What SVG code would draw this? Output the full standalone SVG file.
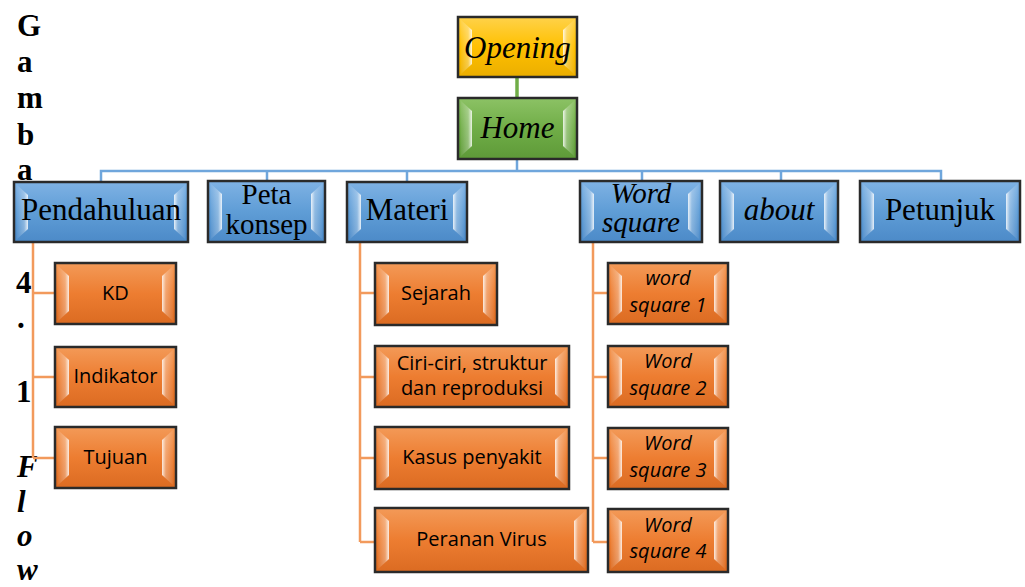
<svg xmlns="http://www.w3.org/2000/svg" width="1025" height="587" viewBox="0 0 1025 587">
<defs>
<linearGradient id="gBlue" x1="0" y1="0" x2="0" y2="1"><stop offset="0" stop-color="#7FB2E4"/><stop offset="0.5" stop-color="#5F9DD6"/><stop offset="1" stop-color="#4C8AC8"/></linearGradient>
<linearGradient id="gOrange" x1="0" y1="0" x2="0" y2="1"><stop offset="0" stop-color="#F39A58"/><stop offset="0.5" stop-color="#ED7D31"/><stop offset="1" stop-color="#DB6B22"/></linearGradient>
<linearGradient id="gGreen" x1="0" y1="0" x2="0" y2="1"><stop offset="0" stop-color="#8CC265"/><stop offset="0.5" stop-color="#70AD47"/><stop offset="1" stop-color="#5E9A38"/></linearGradient>
<linearGradient id="gYellow" x1="0" y1="0" x2="0" y2="1"><stop offset="0" stop-color="#FFD24A"/><stop offset="0.5" stop-color="#FFC000"/><stop offset="1" stop-color="#EBAE00"/></linearGradient>
<linearGradient id="bevL" x1="0" y1="0" x2="1" y2="0"><stop offset="0" stop-color="#fff" stop-opacity="0.05"/><stop offset="0.65" stop-color="#fff" stop-opacity="0.3"/><stop offset="1" stop-color="#fff" stop-opacity="0.85"/></linearGradient>
<linearGradient id="bevR" x1="1" y1="0" x2="0" y2="0"><stop offset="0" stop-color="#fff" stop-opacity="0.05"/><stop offset="0.65" stop-color="#fff" stop-opacity="0.3"/><stop offset="1" stop-color="#fff" stop-opacity="0.85"/></linearGradient>
<style>
.box{stroke:#2a2a2a;stroke-width:2.5}
.blue{fill:url(#gBlue)}
.orange{fill:url(#gOrange)}
.green{fill:url(#gGreen)}
.yellow{fill:url(#gYellow)}
.bl{fill:url(#bevL)}
.br{fill:url(#bevR)}
.ser{font-family:"Liberation Serif","Times New Roman",serif;font-size:31px;fill:#000;text-anchor:middle}
.ser2{font-size:29px}
.it{font-style:italic}
.sans{font-family:"Open Sans","Liberation Sans",sans-serif;font-size:20px;fill:#000;text-anchor:middle}
.side{font-family:"Liberation Serif","Times New Roman",serif;font-size:31px;font-weight:bold;fill:#000}
.cb{stroke:#6FA6DC;stroke-width:2.5;fill:none}
.co{stroke:#F29A5C;stroke-width:2.5;fill:none}
.cg{stroke:#70AD47;stroke-width:3.5;fill:none}
</style>
</defs>
<rect width="1025" height="587" fill="#fff"/>
<g id="caption">
<text class="side" x="17" y="36">G</text>
<text class="side" x="17" y="72">a</text>
<text class="side" x="17" y="108">m</text>
<text class="side" x="17" y="145">b</text>
<text class="side" x="17" y="180">a</text>
<text class="side" x="16" y="293">4</text>
<text class="side" x="17" y="328">.</text>
<text class="side" x="16" y="402">1</text>
<text class="side" x="17" y="477" font-style="italic">F</text>
<text class="side" x="17" y="512" font-style="italic">l</text>
<text class="side" x="17" y="546" font-style="italic">o</text>
<text class="side" x="17" y="580" font-style="italic">w</text>
</g>
<g id="connectors">
<path class="cg" d="M517 77V98"/>
<path class="cb" d="M517 159V171" stroke-width="3.5"/>
<path class="cb" d="M101 182V171H941V181M267 171V181M407 171V182M642 171V181M781 171V181"/>
<path class="co" d="M33 242V458M33 293H55M33 377H55M33 458H55"/>
<path class="co" d="M360 242V542M360 293H375M360 377H375M360 458H375M360 542H375"/>
<path class="co" d="M593 242V542M593 293H608M593 377H608M593 458H608M593 542H608"/>
</g>
<g id="n-opening">
<rect class="box yellow" x="458" y="17" width="119" height="60"/>
<path class="bl" d="M461 20L472 30L472 64L461 74Z"/><path class="br" d="M574 20L563 30L563 64L574 74Z"/>
<text class="ser it" x="517.5" y="58">Opening</text>
</g>
<g id="n-home">
<rect class="box green" x="458" y="98" width="119" height="61"/>
<path class="bl" d="M461 101L472 111L472 146L461 156Z"/><path class="br" d="M574 101L563 111L563 146L574 156Z"/>
<text class="ser it" x="517.5" y="138">Home</text>
</g>
<g id="n-pendahuluan">
<rect class="box blue" x="14" y="182" width="174" height="60"/>
<path class="bl" d="M17 185L28 195L28 229L17 239Z"/><path class="br" d="M185 185L174 195L174 229L185 239Z"/>
<text class="ser" x="101" y="220">Pendahuluan</text>
</g>
<g id="n-peta">
<rect class="box blue" x="208" y="181" width="117" height="61"/>
<path class="bl" d="M211 184L222 194L222 229L211 239Z"/><path class="br" d="M322 184L311 194L311 229L322 239Z"/>
<text class="ser ser2" x="266.5" y="204">Peta</text>
<text class="ser ser2" x="266.5" y="234">konsep</text>
</g>
<g id="n-materi">
<rect class="box blue" x="347" y="182" width="120" height="60"/>
<path class="bl" d="M350 185L361 195L361 229L350 239Z"/><path class="br" d="M464 185L453 195L453 229L464 239Z"/>
<text class="ser" x="407" y="220">Materi</text>
</g>
<g id="n-wordsquare">
<rect class="box blue" x="580" y="181" width="122" height="61"/>
<path class="bl" d="M583 184L594 194L594 229L583 239Z"/><path class="br" d="M699 184L688 194L688 229L699 239Z"/>
<text class="ser ser2 it" x="641" y="203">Word</text>
<text class="ser ser2 it" x="641" y="232">square</text>
</g>
<g id="n-about">
<rect class="box blue" x="720" y="181" width="118" height="61"/>
<path class="bl" d="M723 184L734 194L734 229L723 239Z"/><path class="br" d="M835 184L824 194L824 229L835 239Z"/>
<text class="ser it" x="779" y="220">about</text>
</g>
<g id="n-petunjuk">
<rect class="box blue" x="860" y="181" width="160" height="61"/>
<path class="bl" d="M863 184L874 194L874 229L863 239Z"/><path class="br" d="M1017 184L1006 194L1006 229L1017 239Z"/>
<text class="ser" x="940" y="220">Petunjuk</text>
</g>
<g id="n-kd">
<rect class="box orange" x="55" y="263" width="121" height="61"/>
<path class="bl" d="M58 266L69 276L69 311L58 321Z"/><path class="br" d="M173 266L162 276L162 311L173 321Z"/>
<text class="sans" x="115.5" y="300">KD</text>
</g>
<g id="n-indikator">
<rect class="box orange" x="55" y="347" width="121" height="60"/>
<path class="bl" d="M58 350L69 360L69 394L58 404Z"/><path class="br" d="M173 350L162 360L162 394L173 404Z"/>
<text class="sans" x="115.5" y="383">Indikator</text>
</g>
<g id="n-tujuan">
<rect class="box orange" x="55" y="427" width="121" height="61"/>
<path class="bl" d="M58 430L69 440L69 475L58 485Z"/><path class="br" d="M173 430L162 440L162 475L173 485Z"/>
<text class="sans" x="115.5" y="464">Tujuan</text>
</g>
<g id="n-sejarah">
<rect class="box orange" x="375" y="263" width="122" height="62"/>
<path class="bl" d="M378 266L389 276L389 312L378 322Z"/><path class="br" d="M494 266L483 276L483 312L494 322Z"/>
<text class="sans" x="436" y="300">Sejarah</text>
</g>
<g id="n-ciri">
<rect class="box orange" x="375" y="346" width="194" height="61"/>
<path class="bl" d="M378 349L389 359L389 394L378 404Z"/><path class="br" d="M566 349L555 359L555 394L566 404Z"/>
<text class="sans" x="472" y="370">Ciri-ciri, struktur</text>
<text class="sans" x="472" y="395">dan reproduksi</text>
</g>
<g id="n-kasus">
<rect class="box orange" x="375" y="427" width="194" height="62"/>
<path class="bl" d="M378 430L389 440L389 476L378 486Z"/><path class="br" d="M566 430L555 440L555 476L566 486Z"/>
<text class="sans" x="472" y="464">Kasus penyakit</text>
</g>
<g id="n-peranan">
<rect class="box orange" x="375" y="508" width="213" height="64"/>
<path class="bl" d="M378 511L389 521L389 559L378 569Z"/><path class="br" d="M585 511L574 521L574 559L585 569Z"/>
<text class="sans" x="481.5" y="546">Peranan Virus</text>
</g>
<g id="n-ws1">
<rect class="box orange" x="608" y="263" width="120" height="61"/>
<path class="bl" d="M611 266L622 276L622 311L611 321Z"/><path class="br" d="M725 266L714 276L714 311L725 321Z"/>
<text class="sans it" x="668" y="285">word</text>
<text class="sans it" x="668" y="312">square 1</text>
</g>
<g id="n-ws2">
<rect class="box orange" x="608" y="346" width="120" height="61"/>
<path class="bl" d="M611 349L622 359L622 394L611 404Z"/><path class="br" d="M725 349L714 359L714 394L725 404Z"/>
<text class="sans it" x="668" y="368">Word</text>
<text class="sans it" x="668" y="395">square 2</text>
</g>
<g id="n-ws3">
<rect class="box orange" x="608" y="428" width="120" height="61"/>
<path class="bl" d="M611 431L622 441L622 476L611 486Z"/><path class="br" d="M725 431L714 441L714 476L725 486Z"/>
<text class="sans it" x="668" y="450">Word</text>
<text class="sans it" x="668" y="477">square 3</text>
</g>
<g id="n-ws4">
<rect class="box orange" x="608" y="509" width="120" height="63"/>
<path class="bl" d="M611 512L622 522L622 559L611 569Z"/><path class="br" d="M725 512L714 522L714 559L725 569Z"/>
<text class="sans it" x="668" y="532">Word</text>
<text class="sans it" x="668" y="558">square 4</text>
</g>
</svg>
